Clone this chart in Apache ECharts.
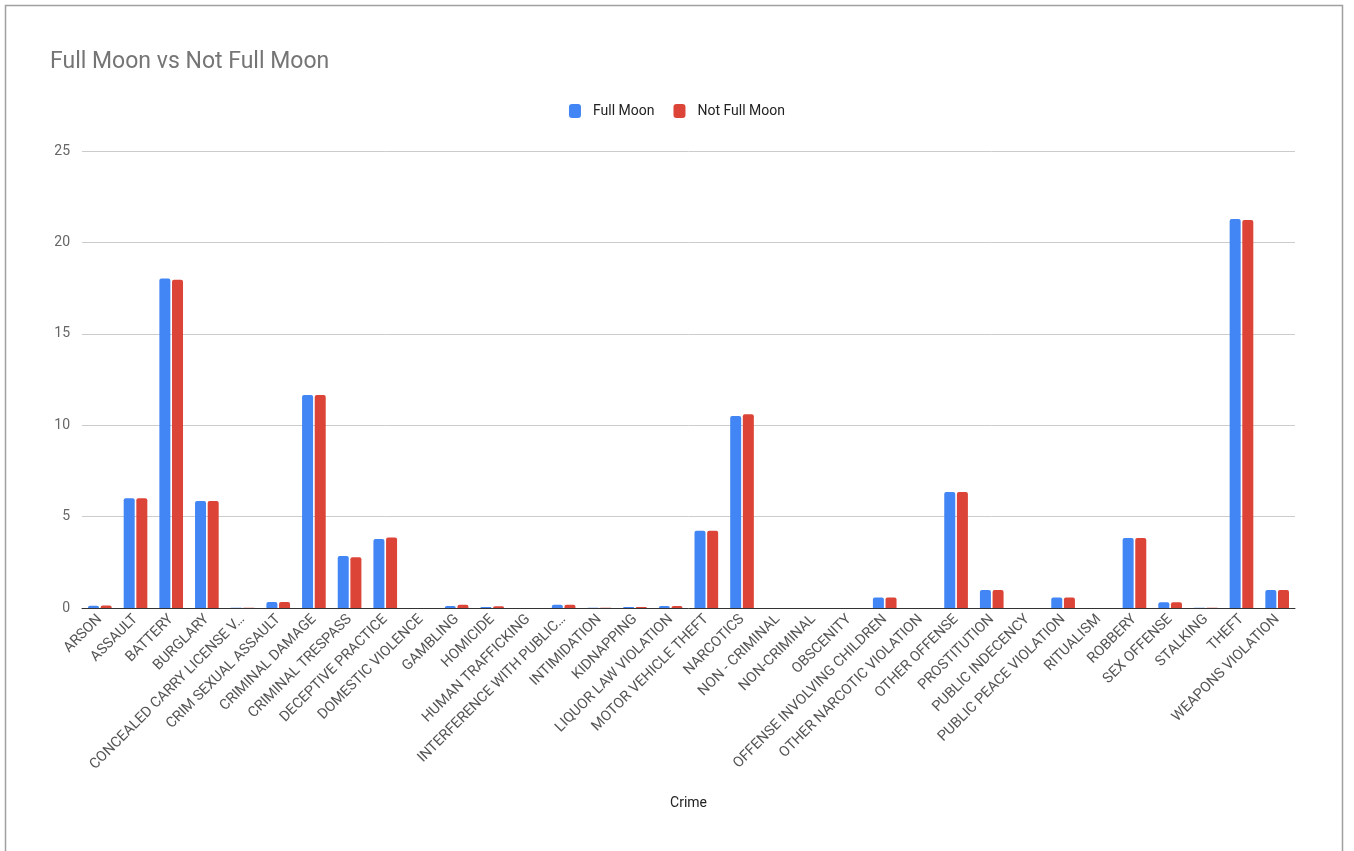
<!DOCTYPE html>
<html>
<head>
<meta charset="utf-8">
<script src="https://cdn.jsdelivr.net/npm/echarts@6/dist/echarts.min.js"></script>
<style>
  html, body { margin: 0; padding: 0; background: #fff; }
  #chart { width: 1354px; height: 851px; }
</style>
</head>
<body>
<div id="chart"></div>
<script>
// Crime categories (share of incidents, %)
const crimes = [
  'ARSON', 'ASSAULT', 'BATTERY', 'BURGLARY', 'CONCEALED CARRY LICENSE V…',
  'CRIM SEXUAL ASSAULT', 'CRIMINAL DAMAGE', 'CRIMINAL TRESPASS', 'DECEPTIVE PRACTICE',
  'DOMESTIC VIOLENCE', 'GAMBLING', 'HOMICIDE', 'HUMAN TRAFFICKING',
  'INTERFERENCE WITH PUBLIC…', 'INTIMIDATION', 'KIDNAPPING', 'LIQUOR LAW VIOLATION',
  'MOTOR VEHICLE THEFT', 'NARCOTICS', 'NON - CRIMINAL', 'NON-CRIMINAL', 'OBSCENITY',
  'OFFENSE INVOLVING CHILDREN', 'OTHER NARCOTIC VIOLATION', 'OTHER OFFENSE',
  'PROSTITUTION', 'PUBLIC INDECENCY', 'PUBLIC PEACE VIOLATION', 'RITUALISM',
  'ROBBERY', 'SEX OFFENSE', 'STALKING', 'THEFT', 'WEAPONS VIOLATION'
];

const fullMoon = [
  0.12, 6.0, 18.02, 5.85, 0.01,
  0.33, 11.65, 2.84, 3.77,
  0.0, 0.11, 0.06, 0.0,
  0.18, 0.02, 0.05, 0.11,
  4.23, 10.5, 0.0, 0.0, 0.0,
  0.58, 0.0, 6.35,
  0.98, 0.0, 0.58, 0.0,
  3.83, 0.31, 0.02, 21.28, 0.98
];

const notFullMoon = [
  0.13, 6.0, 17.95, 5.85, 0.01,
  0.33, 11.65, 2.77, 3.85,
  0.0, 0.18, 0.1, 0.0,
  0.18, 0.02, 0.06, 0.11,
  4.23, 10.6, 0.0, 0.0, 0.0,
  0.58, 0.0, 6.35,
  0.98, 0.0, 0.58, 0.0,
  3.83, 0.31, 0.02, 21.22, 0.98
];

const yTicks = { min: 0, max: 25, interval: 5 };

const chart = echarts.init(document.getElementById('chart'), null, { renderer: 'canvas' });
const font = 'Roboto, "Noto Sans", sans-serif';

chart.setOption({
  backgroundColor: '#ffffff',
  textStyle: { fontFamily: font },
  graphic: [{
    type: 'rect',
    shape: { x: 5.5, y: 5.5, width: 1337, height: 860 },
    style: { fill: null, stroke: '#a0a0a0', lineWidth: 1.5 },
    silent: true
  }],
  title: {
    text: 'Full Moon vs Not Full Moon',
    left: 45,
    top: 46,
    textStyle: { fontFamily: font, fontSize: 23, fontWeight: 'normal', color: '#757575' }
  },
  legend: {
    top: 99,
    left: 'center',
    itemWidth: 12,
    itemHeight: 14,
    itemGap: 19,
    icon: 'roundRect',
    textStyle: { fontFamily: font, fontSize: 14, color: '#222', padding: [0, 0, 0, 7] },
    data: ['Full Moon', 'Not Full Moon']
  },
  grid: { left: 82, right: 59, top: 151, bottom: 243, containLabel: false },
  xAxis: {
    type: 'category',
    data: crimes,
    name: 'Crime',
    nameLocation: 'middle',
    nameGap: 188,
    nameTextStyle: { fontFamily: font, fontSize: 14, color: '#222' },
    axisLine: { lineStyle: { color: '#333', width: 1 } },
    axisTick: { show: false },
    axisLabel: {
      rotate: 45,
      interval: 0,
      margin: 9,
      fontFamily: font,
      fontSize: 14.5,
      color: '#555'
    }
  },
  yAxis: {
    type: 'value',
    min: yTicks.min,
    max: yTicks.max,
    interval: yTicks.interval,
    axisLine: { show: false },
    axisTick: { show: false },
    axisLabel: { fontFamily: font, fontSize: 14, color: '#666', margin: 12 },
    splitLine: { lineStyle: { color: '#cccccc', width: 1 } }
  },
  series: [
    {
      name: 'Full Moon',
      type: 'bar',
      data: fullMoon,
      barWidth: 11,
      barGap: '15%',
      itemStyle: { color: '#4285F4', borderRadius: [2, 2, 0, 0] }
    },
    {
      name: 'Not Full Moon',
      type: 'bar',
      data: notFullMoon,
      barWidth: 11,
      itemStyle: { color: '#DB4437', borderRadius: [2, 2, 0, 0] }
    }
  ]
});
</script>
</body>
</html>
